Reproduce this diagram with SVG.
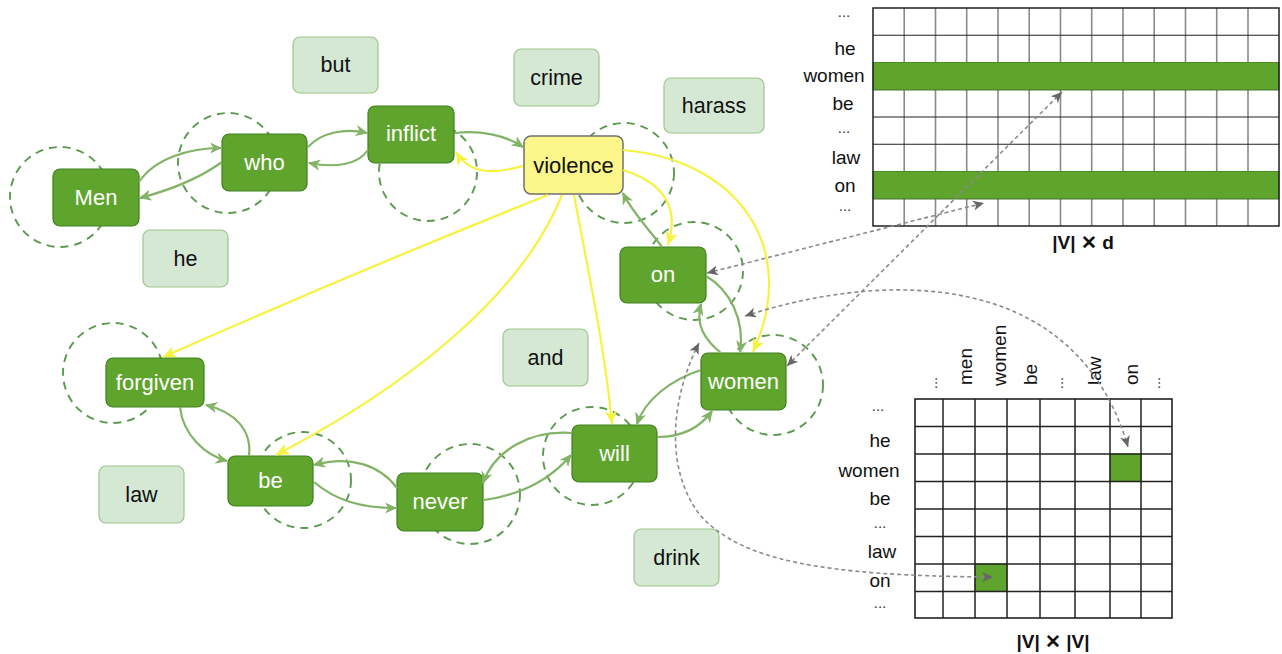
<svg xmlns="http://www.w3.org/2000/svg" width="1282" height="654" viewBox="0 0 1282 654">
<style>
  text { font-family: "Liberation Sans", Arial, Helvetica, sans-serif; }
  .node rect { fill: #5fa52d; stroke: #3f7f1f; stroke-width: 1.2; }
  .node text { fill: #ffffff; font-size: 22px; text-anchor: middle; }
  .word rect { fill: #d5e8d4; stroke: #9cc68a; stroke-width: 1.2; }
  .word text { fill: #111111; font-size: 21.5px; text-anchor: middle; }
  .ring { fill: none; stroke: #5b9a4f; stroke-width: 1.9; stroke-dasharray: 8 6; }
  .g { fill: none; stroke: #82b366; stroke-width: 2.2; marker-end: url(#ga); }
  .y { fill: none; stroke: #f7f23e; stroke-width: 2.2; marker-end: url(#ya); }
  .d { fill: none; stroke: #8a8a8a; stroke-width: 1.6; stroke-dasharray: 4 3; marker-start: url(#da); marker-end: url(#da); }
  .lbl { fill: #111111; font-size: 19px; text-anchor: middle; }
  .dots { fill: #333333; font-size: 15px; text-anchor: middle; }
  .vl { fill: #111111; font-size: 19px; }
  .cap { fill: #111111; font-size: 19px; font-weight: bold; text-anchor: middle; }
  .vg { stroke: #8a8a8a; stroke-width: 1.6; }
  .hg { stroke: #222222; stroke-width: 1.2; }
  .bg { stroke: #222222; stroke-width: 1.5; }
  .cell { fill: #5fa52d; stroke: #4a8a25; stroke-width: 1; }
</style>
<defs>
  <marker id="ga" viewBox="0 0 12 12" refX="11" refY="6" markerWidth="12" markerHeight="12" markerUnits="userSpaceOnUse" orient="auto">
    <path d="M1,1.5 L11,6 L1,10.5 L4,6 Z" fill="#82b366" stroke="#82b366" stroke-width="1"/>
  </marker>
  <marker id="ya" viewBox="0 0 14 14" refX="13" refY="7" markerWidth="14" markerHeight="14" markerUnits="userSpaceOnUse" orient="auto">
    <path d="M0,1 L13,7 L0,13 L3.5,7 Z" fill="#f7f23e"/>
  </marker>
  <marker id="da" viewBox="0 0 12 12" refX="11" refY="6" markerWidth="12" markerHeight="12" markerUnits="userSpaceOnUse" orient="auto-start-reverse">
    <path d="M0,1 L11,6 L0,11 L3,6 Z" fill="#666666"/>
  </marker>
</defs>
<rect width="1282" height="654" fill="#ffffff"/>

<g id="rings">
  <circle class="ring" cx="60" cy="197" r="50"/>
  <circle class="ring" cx="228" cy="163" r="50"/>
  <circle class="ring" cx="428" cy="172" r="49"/>
  <circle class="ring" cx="624" cy="173" r="50"/>
  <circle class="ring" cx="694" cy="271" r="49"/>
  <circle class="ring" cx="773" cy="385" r="50"/>
  <circle class="ring" cx="592" cy="456" r="49"/>
  <circle class="ring" cx="470" cy="494" r="50"/>
  <circle class="ring" cx="303" cy="480" r="48"/>
  <circle class="ring" cx="113" cy="373" r="50"/>
</g>

<g id="node-men" class="node"><rect x="53" y="169" width="86" height="57" rx="7"/><text x="96" y="205">Men</text></g>
<g id="node-who" class="node"><rect x="222" y="134" width="85" height="57" rx="7"/><text x="264.5" y="170">who</text></g>
<g id="node-inflict" class="node"><rect x="368" y="106" width="86" height="57" rx="7"/><text x="411" y="141">inflict</text></g>
<g id="node-violence"><rect x="524" y="136" width="99" height="58" rx="7" fill="#fdf68a" stroke="#6f6f6f" stroke-width="1.5"/><text x="573.5" y="173" font-size="22" fill="#111111" text-anchor="middle">violence</text></g>
<g id="node-on" class="node"><rect x="620" y="247" width="86" height="56" rx="7"/><text x="663" y="282">on</text></g>
<g id="node-women" class="node"><rect x="701" y="353" width="85" height="57" rx="7"/><text x="743.5" y="389">women</text></g>
<g id="node-will" class="node"><rect x="572" y="425" width="85" height="57" rx="7"/><text x="614.5" y="461">will</text></g>
<g id="node-never" class="node"><rect x="397" y="473" width="86" height="58" rx="7"/><text x="440" y="509">never</text></g>
<g id="node-be" class="node"><rect x="228" y="456" width="85" height="50" rx="7"/><text x="270.5" y="488">be</text></g>
<g id="node-forgiven" class="node"><rect x="106" y="358" width="98" height="49" rx="7"/><text x="155" y="390">forgiven</text></g>

<g id="node-but" class="word"><rect x="293" y="37" width="85" height="56" rx="7"/><text x="335.5" y="72">but</text></g>
<g id="node-he" class="word"><rect x="143" y="230" width="85" height="57" rx="7"/><text x="185.5" y="266">he</text></g>
<g id="node-crime" class="word"><rect x="514" y="49" width="85" height="57" rx="7"/><text x="556.5" y="85">crime</text></g>
<g id="node-harass" class="word"><rect x="664" y="78" width="100" height="55" rx="7"/><text x="714" y="113">harass</text></g>
<g id="node-and" class="word"><rect x="503" y="329" width="85" height="57" rx="7"/><text x="545.5" y="365">and</text></g>
<g id="node-drink" class="word"><rect x="634" y="529" width="85" height="57" rx="7"/><text x="676.5" y="565">drink</text></g>
<g id="node-law" class="word"><rect x="99" y="466" width="85" height="57" rx="7"/><text x="141.5" y="502">law</text></g>

<g id="embedding-matrix">
  <rect x="873" y="8" width="406" height="218" fill="#ffffff"/>
  <g class="vg">
    <line x1="904.2" y1="8" x2="904.2" y2="226"/><line x1="935.5" y1="8" x2="935.5" y2="226"/>
    <line x1="966.7" y1="8" x2="966.7" y2="226"/><line x1="998" y1="8" x2="998" y2="226"/>
    <line x1="1029.2" y1="8" x2="1029.2" y2="226"/><line x1="1060.5" y1="8" x2="1060.5" y2="226"/>
    <line x1="1091.7" y1="8" x2="1091.7" y2="226"/><line x1="1123" y1="8" x2="1123" y2="226"/>
    <line x1="1154.2" y1="8" x2="1154.2" y2="226"/><line x1="1185.5" y1="8" x2="1185.5" y2="226"/>
    <line x1="1216.7" y1="8" x2="1216.7" y2="226"/><line x1="1248" y1="8" x2="1248" y2="226"/>
  </g>
  <g class="hg">
    <line x1="873" y1="35.25" x2="1279" y2="35.25"/><line x1="873" y1="62.5" x2="1279" y2="62.5"/>
    <line x1="873" y1="89.75" x2="1279" y2="89.75"/><line x1="873" y1="117" x2="1279" y2="117"/>
    <line x1="873" y1="144.25" x2="1279" y2="144.25"/><line x1="873" y1="171.5" x2="1279" y2="171.5"/>
    <line x1="873" y1="198.75" x2="1279" y2="198.75"/>
  </g>
  <rect class="cell" x="873" y="62.5" width="406" height="27.25"/>
  <rect class="cell" x="873" y="171.5" width="406" height="27.25"/>
  <rect x="873" y="8" width="406" height="218" fill="none" stroke="#222222" stroke-width="1.5"/>
  <text class="dots" x="844" y="17">...</text>
  <text class="lbl" x="845" y="55">he</text>
  <text class="lbl" x="834" y="82">women</text>
  <text class="lbl" x="843" y="110">be</text>
  <text class="dots" x="844" y="133">...</text>
  <text class="lbl" x="846" y="164">law</text>
  <text class="lbl" x="845" y="192">on</text>
  <text class="dots" x="845" y="211">...</text>
  <text class="cap" x="1083" y="249">|V| ✕ d</text>
</g>

<g id="adjacency-matrix">
  <rect x="915" y="399" width="257" height="219" fill="#ffffff"/>
  <rect class="cell" x="1110" y="454" width="31" height="27.5"/>
  <rect class="cell" x="975" y="564" width="32" height="27.5"/>
  <g class="bg">
    <line x1="943" y1="399" x2="943" y2="618"/><line x1="975" y1="399" x2="975" y2="618"/>
    <line x1="1007" y1="399" x2="1007" y2="618"/><line x1="1040" y1="399" x2="1040" y2="618"/>
    <line x1="1075" y1="399" x2="1075" y2="618"/><line x1="1110" y1="399" x2="1110" y2="618"/>
    <line x1="1141" y1="399" x2="1141" y2="618"/>
    <line x1="915" y1="426.5" x2="1172" y2="426.5"/><line x1="915" y1="454" x2="1172" y2="454"/>
    <line x1="915" y1="481.5" x2="1172" y2="481.5"/><line x1="915" y1="509" x2="1172" y2="509"/>
    <line x1="915" y1="536.5" x2="1172" y2="536.5"/><line x1="915" y1="564" x2="1172" y2="564"/>
    <line x1="915" y1="591.5" x2="1172" y2="591.5"/>
  </g>
  <rect x="915" y="399" width="257" height="219" fill="none" stroke="#222222" stroke-width="1.6"/>
  <text class="dots" x="878" y="411">...</text>
  <text class="lbl" x="880" y="447">he</text>
  <text class="lbl" x="869" y="477">women</text>
  <text class="lbl" x="880" y="505">be</text>
  <text class="dots" x="880" y="528">...</text>
  <text class="lbl" x="882" y="558">law</text>
  <text class="lbl" x="880" y="587">on</text>
  <text class="dots" x="880" y="608">...</text>
  <text class="dots" transform="translate(937,383) rotate(-90)" text-anchor="start">...</text>
  <text class="vl" transform="translate(972,385) rotate(-90)">men</text>
  <text class="vl" transform="translate(1006,386) rotate(-90)">women</text>
  <text class="vl" transform="translate(1037,385) rotate(-90)">be</text>
  <text class="dots" transform="translate(1063,383) rotate(-90)" text-anchor="start">...</text>
  <text class="vl" transform="translate(1101,385) rotate(-90)">law</text>
  <text class="vl" transform="translate(1138,385) rotate(-90)">on</text>
  <text class="dots" transform="translate(1160,383) rotate(-90)" text-anchor="start">...</text>
  <text class="cap" x="1053" y="648">|V| ✕ |V|</text>
</g>

<g id="connectors">
  <path class="g" d="M139 182 C155 158 190 148 221 148"/>
  <path class="g" d="M222 162 C200 178 170 190 140 198"/>
  <path class="g" d="M308 147 C322 132 345 128 367 133"/>
  <path class="g" d="M368 150 C358 165 335 168 309 163"/>
  <path class="g" d="M455 133 C480 130 505 135 523 147"/>
  <path class="y" d="M523 166 C500 172 472 178 456 152"/>
  <path class="y" d="M623 170 C655 180 682 200 668 245"/>
  <path class="g" d="M662 247 C648 228 632 212 623 193"/>
  <path class="y" d="M623 150 C740 160 800 250 753 352"/>
  <path class="g" d="M706 276 C730 290 745 320 740 352"/>
  <path class="g" d="M721 353 C705 340 695 325 701 304"/>
  <path class="y" d="M548 195 Q360 270 163 357"/>
  <path class="y" d="M562 195 C520 300 400 390 276 455"/>
  <path class="y" d="M574 195 C590 280 605 350 612 424"/>
  <path class="g" d="M701 370 C670 380 645 400 637 424"/>
  <path class="g" d="M657 437 C685 437 702 425 712 411"/>
  <path class="g" d="M572 433 C530 430 495 450 483 483"/>
  <path class="g" d="M484 500 C520 495 550 480 571 455"/>
  <path class="g" d="M397 488 C380 465 350 455 314 465"/>
  <path class="g" d="M314 482 C335 500 360 508 396 508"/>
  <path class="g" d="M249 456 C252 430 235 412 206 405"/>
  <path class="g" d="M180 407 C183 435 205 455 227 461"/>
  <path class="d" d="M707 273 L984 203"/>
  <path class="d" d="M787 366 L1062 92"/>
  <path class="d" d="M745 316 C880 272 1075 265 1128 447"/>
  <path class="d" d="M699 343 C670 400 665 470 700 515 C740 560 820 576 993 577"/>
</g>
</svg>
